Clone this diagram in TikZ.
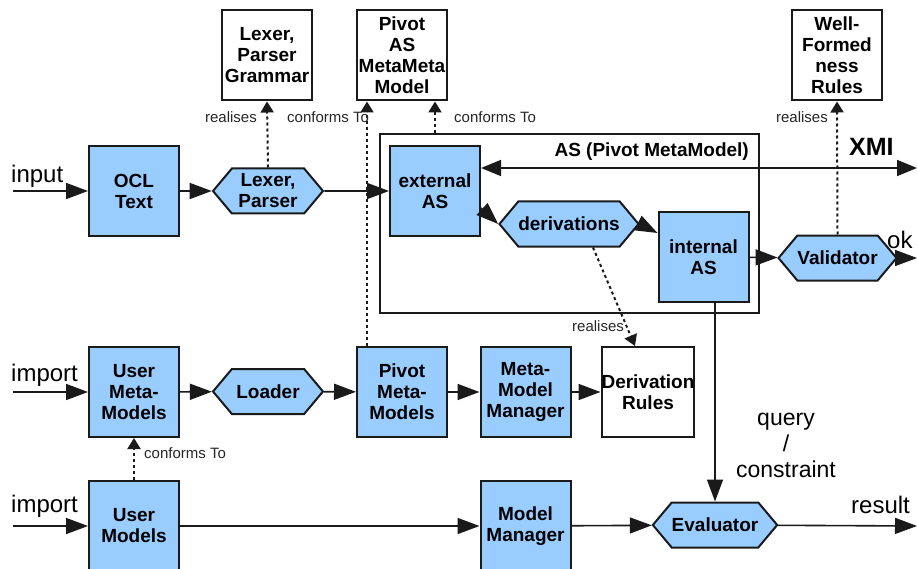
\documentclass[tikz,border=0pt]{standalone}
\usepackage{fontspec}
\setmainfont{Liberation Sans}
\usetikzlibrary{arrows.meta,shapes.symbols,calc}
\definecolor{boxblue}{HTML}{99CCFF}
\definecolor{edge}{HTML}{1A1A1A}

\begin{document}
\begin{tikzpicture}[x=1pt,y=-1pt,
  every node/.style={font=\fontsize{19}{21}\selectfont\bfseries, align=center, inner sep=0pt},
  block/.style={draw=edge, line width=2pt, minimum width=90pt, minimum height=90pt},
  unit/.style={block, fill=boxblue},
  doc/.style={block, fill=white},
  proc/.style={signal, signal to=east and west, signal pointer angle=100,
    draw=edge, line width=2pt, fill=boxblue, minimum width=110pt, minimum height=45pt},
  flow/.style={line width=1.6pt, draw=edge, -{Triangle[length=22pt,width=16pt]}},
  twoway/.style={line width=1.6pt, draw=edge,
    {Triangle[length=20pt,width=16pt]}-{Triangle[length=20pt,width=16pt]}},
  link/.style={line width=2pt, draw=edge, dash pattern=on 3pt off 3pt,
    -{Triangle[length=11pt,width=13pt]}},
  note/.style={font=\fontsize{15}{18}\selectfont, text=black!85},
  io/.style={font=\fontsize{24}{26}\selectfont},
]
\useasboundingbox (0,0) rectangle (917,569);

% container for the abstract syntax
\node[draw=edge, line width=2pt, minimum width=379pt, minimum height=179pt] (asbox) at (569.5,223.5) {};
\node[anchor=base east] (astitle) at (749,157) {AS (Pivot MetaModel)};

% documents at the top
\node[doc] (lpg) at (267,55.5) {Lexer,\\Parser\\Grammar};
\node[doc] (pmm) at (402,55.5) {Pivot\\AS\\MetaMeta\\Model};
\node[doc] (wfr) at (837,55.5) {Well-\\Formed\\ness\\Rules};

% first row: parsing
\node[unit] (ocl) at (134,191) {OCL\\Text};
\node[proc] (lexp) at (268,191) {Lexer,\\Parser};
\node[unit] (ext) at (435,191) {external\\AS};
\node[proc, minimum width=112pt] (der) at (569,224) {derivations};
\node[unit] (int) at (703.5,257) {internal\\AS};
\node[proc, minimum width=111pt] (val) at (837.5,258) {Validator};

% second row: meta-models
\node[unit] (umm) at (134,392) {User\\Meta-\\Models};
\node[proc] (loader) at (268,391.5) {Loader};
\node[unit] (pivmm) at (402,392) {Pivot\\Meta-\\Models};
\node[unit] (mmm) at (525.5,392) {Meta-\\Model\\Manager};
\node[doc] (dr) at (648,392) {Derivation\\Rules};

% third row: models
\node[unit] (um) at (134,526) {User\\Models};
\node[unit] (mm) at (525.5,526) {Model\\Manager};
\node[proc] (eval) at (715,525) {Evaluator};

% free ends
\coordinate (in0) at (13,191);
\coordinate (in1) at (13,392);
\coordinate (in2) at (13,526);
\coordinate (xmiend) at (917,168);
\coordinate (okend) at (917,258);
\coordinate (resend) at (917,526);

% outer labels
\node[io, anchor=base west] (linput) at (11,183) {input};
\node[io, anchor=base west] (limp1) at (11,381) {import};
\node[io, anchor=base west] (limp2) at (11,512) {import};
\node[io, anchor=base west] (lok) at (887,248) {ok};
\node[io, anchor=base west] (lres) at (851,513) {result};
\node[anchor=base west, font=\fontsize{25}{28}\selectfont\bfseries] (lxmi) at (849,156) {XMI};
\node[io, font=\fontsize{23}{26}\selectfont] (lqc) at (786,445) {query\\/\\constraint};

% data flow
\draw[flow] (in0) -- (ocl);
\draw[flow] (ocl) -- (lexp);
\draw[flow] (lexp) -- (ext);
\draw[twoway] ([yshift=23pt]ext.east) -- (xmiend);
\draw[flow] ([yshift=-17pt]ext.east) -- (der.west);
\draw[flow] (der.east) -- ([yshift=24pt]int.west);
\draw[flow] (int) -- (val);
\draw[flow] (val) -- (okend);
\draw[flow] (eval.north |- int.south) -- (eval.north);
\draw[flow] (in1) -- (umm);
\draw[flow] (umm) -- (loader);
\draw[flow] (loader) -- (pivmm);
\draw[flow] (pivmm) -- (mmm);
\draw[flow] (mmm) -- (dr);
\draw[flow] (in2) -- (um);
\draw[flow] (um) -- (mm);
\draw[flow] (mm) -- (eval);
\draw[flow] (eval) -- (resend);

% realisation and conformance links
\draw[link] (lexp.north) -- (lpg.south);
\draw[link] ([xshift=11pt]pivmm.north west) -- ([xshift=11pt]pivmm.north west |- pmm.south);
\draw[link] (ext.north |- asbox.north) -- (ext.north |- pmm.south);
\draw[link] (val.north) -- (wfr.south);
\draw[link] ([xshift=24pt]der.south) -- ([xshift=-13pt]dr.north);
\draw[link] (um.north) -- (umm.south);

\node[note, anchor=base east] (r1) at (257,123) {realises};
\node[note, anchor=base west] (c1) at (287,123) {conforms To};
\node[note, anchor=base west] (c2) at (454,123) {conforms To};
\node[note, anchor=base east] (r2) at (828,123) {realises};
\node[note, anchor=base west] (r3) at (572,331) {realises};
\node[note, anchor=base west] (c3) at (144,458) {conforms To};
\end{tikzpicture}
\end{document}
